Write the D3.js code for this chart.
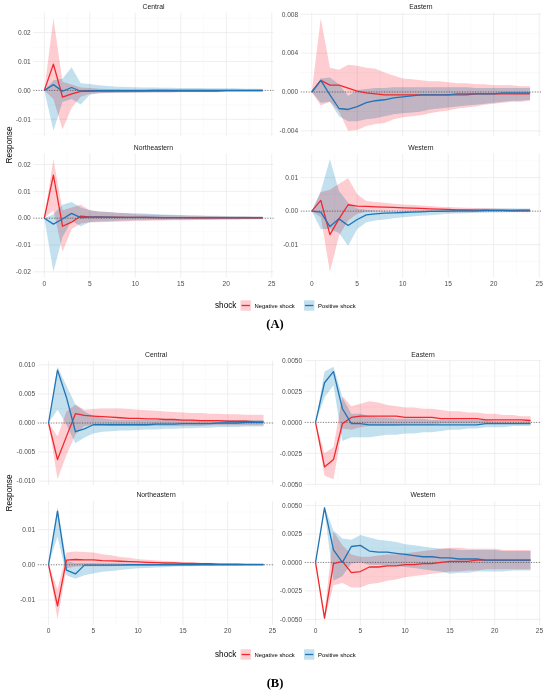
<!DOCTYPE html>
<html>
<head>
<meta charset="utf-8">
<script src="https://cdn.jsdelivr.net/npm/d3@7"></script>
<style>
  body { margin: 0; background: #fff; }
  text { font-family: "Liberation Sans", Arial, sans-serif; }
</style>
</head>
<body>
<div id="chart"></div>
<script>
// horizons 0..24 of the impulse responses
const horizon = [0, 1, 2, 3, 4, 5, 6, 7, 8, 9, 10, 11, 12, 13, 14, 15, 16, 17, 18, 19, 20, 21, 22, 23, 24];
const regions = ["Central", "Eastern", "Northeastern", "Western"];
const shocks = ["Negative shock", "Positive shock"];
const xTicks = [0, 5, 10, 15, 20, 25];

// ---- panel A ----
const aCenNeg   = [0, 0.0091, -0.0023, -0.0012, -0.0003, -0.0002, -0.0002, -0.0002, -0.0002, -0.0002, -0.0002, -0.0002, -0.0002, -0.0002, -0.0002, -0.0002, -0.0002, -0.0002, -0.0002, -0.0002, -0.0001, -0.0001, -0.0001, -0.0001, -0.0001];
const aCenNegLo = [0, -0.003, -0.0135, -0.006, -0.0022, -0.0012, -0.001, -0.0009, -0.0008, -0.0008, -0.0008, -0.0007, -0.0007, -0.0007, -0.0007, -0.0006, -0.0006, -0.0006, -0.0006, -0.0006, -0.0005, -0.0005, -0.0005, -0.0005, -0.0005];
const aCenNegHi = [0, 0.025, 0.003, 0.002, 0.001, 0.0008, 0.0006, 0.0005, 0.0005, 0.0004, 0.0004, 0.0004, 0.0004, 0.0004, 0.0003, 0.0003, 0.0003, 0.0003, 0.0003, 0.0003, 0.0003, 0.0003, 0.0003, 0.0003, 0.0003];
const aCenPos   = [0, 0.0020, -0.0003, 0.0010, -0.0003, -0.0002, -0.0001, -0.0001, -0.0001, -0.0001, -0.0001, -0.0001, 0, 0, 0, 0, 0, 0, 0, 0, 0, 0, 0, 0, 0];
const aCenPosLo = [0, -0.014, -0.004, -0.003, -0.0049, -0.0015, -0.001, -0.0009, -0.0008, -0.0008, -0.0007, -0.0007, -0.0006, -0.0006, -0.0006, -0.0005, -0.0005, -0.0005, -0.0005, -0.0004, -0.0004, -0.0004, -0.0004, -0.0004, -0.0004];
const aCenPosHi = [0, 0.0035, 0.004, 0.008, 0.0025, 0.0022, 0.0018, 0.0015, 0.0013, 0.0012, 0.0011, 0.001, 0.001, 0.0009, 0.0009, 0.0008, 0.0008, 0.0008, 0.0007, 0.0007, 0.0007, 0.0007, 0.0006, 0.0006, 0.0006];

const aEasNeg   = [0, 0.0012, 0.0007, 0.0007, 0.0004, 0.0001, -0.0001, -0.0002, -0.0003, -0.0003, -0.0003, -0.0003, -0.0003, -0.0003, -0.0003, -0.0003, -0.0003, -0.0003, -0.0002, -0.0002, -0.0002, -0.0002, -0.0002, -0.0002, -0.0002];
const aEasNegLo = [0, -0.0014, -0.0010, -0.0020, -0.0040, -0.0039, -0.0035, -0.0033, -0.0032, -0.0028, -0.0026, -0.0025, -0.0024, -0.0022, -0.0020, -0.0019, -0.0017, -0.0016, -0.0015, -0.0013, -0.0012, -0.0011, -0.0010, -0.0010, -0.0009];
const aEasNegHi = [0, 0.0076, 0.0025, 0.0023, 0.0028, 0.0027, 0.0025, 0.0024, 0.0020, 0.0017, 0.0014, 0.0013, 0.0012, 0.0011, 0.0011, 0.0010, 0.0009, 0.0009, 0.0008, 0.0008, 0.0007, 0.0007, 0.0007, 0.0006, 0.0006];
const aEasPos   = [0, 0.0012, -0.0003, -0.0017, -0.0018, -0.0015, -0.0011, -0.0009, -0.0008, -0.0006, -0.0005, -0.0004, -0.0003, -0.0003, -0.0003, -0.0003, -0.0002, -0.0002, -0.0002, -0.0002, -0.0002, -0.0001, -0.0001, -0.0001, -0.0001];
const aEasPosLo = [0, -0.0011, -0.0010, -0.0025, -0.0030, -0.0030, -0.0028, -0.0027, -0.0025, -0.0023, -0.0022, -0.0021, -0.0020, -0.0018, -0.0017, -0.0016, -0.0015, -0.0014, -0.0013, -0.0012, -0.0011, -0.0010, -0.0009, -0.0009, -0.0008];
const aEasPosHi = [0, 0.0014, 0.0015, 0.0008, -0.0004, 0.0002, 0.0003, 0.0004, 0.0004, 0.0005, 0.0005, 0.0005, 0.0005, 0.0005, 0.0005, 0.0005, 0.0005, 0.0005, 0.0004, 0.0004, 0.0004, 0.0004, 0.0004, 0.0004, 0.0004];

const aNorNeg   = [0, 0.016, -0.003, -0.0015, 0.0008, 0.0005, 0.0005, 0.0004, 0.0004, 0.0003, 0.0003, 0.0003, 0.0002, 0.0002, 0.0002, 0.0002, 0.0001, 0.0001, 0.0001, 0.0001, 0.0001, 0.0001, 0.0001, 0.0001, 0.0001];
const aNorNegLo = [0, 0.003, -0.0125, -0.004, -0.002, -0.0015, -0.0015, -0.0014, -0.0013, -0.0012, -0.001, -0.001, -0.0009, -0.0009, -0.0008, -0.0008, -0.0008, -0.0007, -0.0007, -0.0007, -0.0006, -0.0006, -0.0005, -0.0005, -0.0004];
const aNorNegHi = [0, 0.022, 0.003, 0.004, 0.005, 0.003, 0.0025, 0.0023, 0.002, 0.0018, 0.0015, 0.0014, 0.0013, 0.0012, 0.0011, 0.001, 0.0009, 0.0009, 0.0008, 0.0007, 0.0006, 0.0006, 0.0006, 0.0005, 0.0005];
const aNorPos   = [0, -0.0022, -0.0003, 0.0018, 0.0002, 0.0004, 0.0004, 0.0004, 0.0003, 0.0003, 0.0003, 0.0003, 0.0003, 0.0002, 0.0002, 0.0002, 0.0002, 0.0002, 0.0002, 0.0002, 0.0002, 0.0002, 0.0002, 0.0002, 0.0002];
const aNorPosLo = [0, -0.020, -0.007, -0.001, -0.003, -0.0015, -0.0012, -0.0011, -0.001, -0.0009, -0.0008, -0.0008, -0.0007, -0.0007, -0.0006, -0.0006, -0.0005, -0.0005, -0.0005, -0.0004, -0.0004, -0.0004, -0.0003, -0.0003, -0.0003];
const aNorPosHi = [0, 0.0015, 0.005, 0.006, 0.004, 0.003, 0.0025, 0.0023, 0.002, 0.0019, 0.0018, 0.0017, 0.0016, 0.0014, 0.0013, 0.0012, 0.0011, 0.001, 0.0009, 0.0009, 0.0008, 0.0007, 0.0007, 0.0006, 0.0006];

const aWesNeg   = [0, 0.0032, -0.007, -0.0023, 0.0019, 0.0015, 0.0014, 0.0013, 0.0012, 0.0011, 0.001, 0.0009, 0.0008, 0.0007, 0.0006, 0.0005, 0.0004, 0.0004, 0.0003, 0.0003, 0.0002, 0.0002, 0.0001, 0.0001, 0.0001];
const aWesNegLo = [0, -0.0018, -0.0181, -0.0073, -0.0028, -0.0008, -0.0002, 0, 0, 0, -0.0001, -0.0001, -0.0002, -0.0002, -0.0002, -0.0003, -0.0003, -0.0003, -0.0003, -0.0003, -0.0003, -0.0003, -0.0003, -0.0003, -0.0003];
const aWesNegHi = [0, 0.0057, 0.0064, 0.0082, 0.0098, 0.005, 0.003, 0.0027, 0.0025, 0.0022, 0.002, 0.0019, 0.0017, 0.0015, 0.0013, 0.0012, 0.0011, 0.001, 0.0009, 0.0009, 0.0008, 0.0007, 0.0007, 0.0006, 0.0006];
const aWesPos   = [0, -0.0003, -0.0046, -0.0023, -0.0043, -0.0025, -0.0011, -0.0008, -0.0006, -0.0005, -0.0004, -0.0003, -0.0002, -0.0001, -0.0001, 0, 0.0001, 0.0001, 0.0001, 0.0002, 0.0002, 0.0002, 0.0002, 0.0003, 0.0003];
const aWesPosLo = [0, -0.0053, -0.0053, -0.0065, -0.0103, -0.0053, -0.0033, -0.0028, -0.0025, -0.0021, -0.0018, -0.0016, -0.0014, -0.0012, -0.001, -0.0008, -0.0007, -0.0006, -0.0005, -0.0004, -0.0003, -0.0003, -0.0002, -0.0002, -0.0002];
const aWesPosHi = [0, 0.006, 0.0155, 0.006, 0.0025, 0.0008, 0.0004, 0.0002, 0.0001, 0, 0, 0.0001, 0.0002, 0.0003, 0.0004, 0.0005, 0.0006, 0.0006, 0.0007, 0.0007, 0.0008, 0.0008, 0.0008, 0.0008, 0.0008];

// ---- panel B ----
const bCenNeg   = [0, -0.0063, -0.0023, 0.0016, 0.0013, 0.0012, 0.0011, 0.001, 0.0009, 0.0008, 0.0008, 0.0007, 0.0007, 0.0006, 0.0006, 0.0005, 0.0005, 0.0004, 0.0004, 0.0004, 0.0003, 0.0003, 0.0003, 0.0002, 0.0002];
const bCenNegLo = [0, -0.0097, -0.0055, -0.002, -0.0005, -0.0004, -0.0004, -0.0005, -0.0005, -0.0005, -0.0005, -0.0005, -0.0005, -0.0005, -0.0005, -0.0005, -0.0005, -0.0005, -0.0004, -0.0004, -0.0004, -0.0004, -0.0004, -0.0004, -0.0004];
const bCenNegHi = [0, -0.0023, 0.002, 0.0032, 0.0023, 0.0024, 0.0025, 0.0025, 0.0025, 0.0024, 0.0023, 0.0022, 0.0021, 0.002, 0.0019, 0.0018, 0.0017, 0.0017, 0.0016, 0.0016, 0.0015, 0.0015, 0.0014, 0.0014, 0.0014];
const bCenPos   = [0, 0.0091, 0.0044, -0.0015, -0.001, -0.0003, -0.0003, -0.0003, -0.0003, -0.0003, -0.0003, -0.0003, -0.0002, -0.0002, -0.0002, -0.0001, -0.0001, -0.0001, -0.0001, 0, 0, 0, 0.0001, 0.0001, 0.0001];
const bCenPosLo = [0, 0.0023, -0.0003, -0.0035, -0.0025, -0.0018, -0.0015, -0.0014, -0.0013, -0.0013, -0.0012, -0.0011, -0.0011, -0.001, -0.001, -0.0009, -0.0009, -0.0008, -0.0008, -0.0007, -0.0007, -0.0007, -0.0006, -0.0006, -0.0006];
const bCenPosHi = [0, 0.0097, 0.0064, 0.0032, 0.002, 0.0012, 0.0008, 0.0006, 0.0005, 0.0005, 0.0005, 0.0005, 0.0005, 0.0005, 0.0005, 0.0005, 0.0005, 0.0005, 0.0005, 0.0005, 0.0005, 0.0005, 0.0005, 0.0005, 0.0005];

const bEasNeg   = [0, -0.0036, -0.003, -0.0001, 0.0004, 0.0005, 0.0005, 0.0005, 0.0005, 0.0005, 0.0004, 0.0004, 0.0004, 0.0004, 0.0003, 0.0003, 0.0003, 0.0003, 0.0003, 0.0002, 0.0002, 0.0002, 0.0002, 0.0002, 0.00015];
const bEasNegLo = [0, -0.0043, -0.0046, -0.0005, -0.0006, -0.0004, -0.0003, -0.0003, -0.0003, -0.0003, -0.0002, -0.0002, -0.0002, -0.0002, -0.0001, -0.0001, -0.0001, -0.0001, -0.0001, -0.0001, -0.0001, -0.0001, -0.0001, -0.0001, -0.0001];
const bEasNegHi = [0, -0.0025, -0.002, 0.0021, 0.0013, 0.0015, 0.0017, 0.0016, 0.0014, 0.0013, 0.0012, 0.0012, 0.0011, 0.0011, 0.001, 0.0009, 0.0009, 0.0008, 0.0008, 0.0007, 0.0007, 0.0006, 0.0006, 0.0005, 0.0005];
const bEasPos   = [0, 0.0032, 0.0041, 0.0011, -0.0001, -0.0001, -0.0002, -0.0002, -0.0002, -0.0002, -0.0002, -0.0002, -0.0002, -0.0002, -0.0002, -0.0002, -0.0002, -0.0002, -0.0002, -0.0001, -0.0001, -0.0001, -0.0001, -0.0001, -0.0001];
const bEasPosLo = [0, 0.002, 0.003, -0.0015, -0.0012, -0.0012, -0.0012, -0.0011, -0.001, -0.001, -0.0009, -0.0009, -0.0008, -0.0008, -0.0007, -0.0006, -0.0006, -0.0005, -0.0005, -0.0004, -0.0004, -0.0004, -0.0003, -0.0003, -0.0003];
const bEasPosHi = [0, 0.0041, 0.0045, 0.002, 0.0007, 0.0007, 0.0005, 0.0004, 0.0004, 0.0003, 0.0003, 0.0003, 0.0003, 0.0002, 0.0002, 0.0002, 0.0002, 0.0002, 0.0002, 0.0002, 0.0001, 0.0001, 0.0001, 0.0001, 0.0001];

const bNorNeg   = [0, -0.0117, 0.0013, 0.0015, 0.0014, 0.0014, 0.0012, 0.0011, 0.001, 0.0009, 0.0008, 0.0007, 0.0006, 0.0005, 0.0005, 0.0004, 0.0004, 0.0003, 0.0003, 0.0002, 0.0002, 0.0002, 0.0001, 0.0001, 0.0001];
const bNorNegLo = [0, -0.0155, -0.001, -0.0005, -0.0004, -0.0004, -0.0004, -0.0004, -0.0003, -0.0003, -0.0003, -0.0003, -0.0002, -0.0002, -0.0002, -0.0002, -0.0002, -0.0001, -0.0001, -0.0001, -0.0001, -0.0001, -0.0001, -0.0001, -0.0001];
const bNorNegHi = [0, -0.007, 0.0035, 0.0038, 0.0036, 0.0035, 0.003, 0.0027, 0.0022, 0.002, 0.0016, 0.0014, 0.0012, 0.0011, 0.0009, 0.0008, 0.0007, 0.0006, 0.0006, 0.0005, 0.0004, 0.0004, 0.0003, 0.0003, 0.0002];
const bNorPos   = [0, 0.0152, -0.0015, -0.0026, -0.0001, -0.0001, -0.0001, -0.0001, -0.0001, 0, 0, 0, 0, 0, 0, 0, 0, 0, 0, 0, 0, 0, 0, 0, 0];
const bNorPosLo = [0, 0.008, -0.003, -0.004, -0.003, -0.0025, -0.002, -0.0018, -0.0015, -0.0012, -0.001, -0.0009, -0.0008, -0.0007, -0.0005, -0.0004, -0.0004, -0.0003, -0.0003, -0.0002, -0.0002, -0.0002, -0.0001, -0.0001, -0.0001];
const bNorPosHi = [0, 0.0165, 0.001, 0.0005, 0.0005, 0.0005, 0.0004, 0.0004, 0.0004, 0.0003, 0.0003, 0.0003, 0.0003, 0.0002, 0.0002, 0.0002, 0.0002, 0.0002, 0.0002, 0.0002, 0.0002, 0.0002, 0.0002, 0.0002, 0.0002];

const bWesNeg   = [0, -0.0049, -0.0001, 0.0001, -0.0009, -0.0008, -0.0004, -0.0004, -0.0003, -0.0003, -0.0002, -0.0002, -0.0001, -0.0001, 0, 0.0001, 0.0001, 0.0001, 0.0002, 0.0002, 0.0002, 0.0002, 0.0002, 0.0002, 0.0002];
const bWesNegLo = [0, -0.005, -0.002, -0.0018, -0.0022, -0.0022, -0.0019, -0.0018, -0.0016, -0.0015, -0.0013, -0.0012, -0.0011, -0.001, -0.0009, -0.0008, -0.0008, -0.0007, -0.0007, -0.0006, -0.0006, -0.0006, -0.0006, -0.0006, -0.0006];
const bWesNegHi = [0, -0.0045, 0.0027, 0.0015, 0.0007, 0.0005, 0.0005, 0.0006, 0.0007, 0.0007, 0.0008, 0.0009, 0.001, 0.0011, 0.0012, 0.0013, 0.0013, 0.0012, 0.0012, 0.0012, 0.0012, 0.0011, 0.0011, 0.0011, 0.0011];
const bWesPos   = [0, 0.0048, 0.0011, 0, 0.0014, 0.0015, 0.001, 0.0009, 0.0009, 0.0008, 0.0007, 0.0006, 0.0005, 0.0005, 0.0004, 0.0004, 0.0003, 0.0003, 0.0003, 0.0002, 0.0002, 0.0002, 0.0002, 0.0002, 0.0002];
const bWesPosLo = [0, 0.0045, -0.0016, -0.0012, -0.0001, 0, -0.0002, -0.0002, -0.0003, -0.0003, -0.0004, -0.0005, -0.0006, -0.0007, -0.0008, -0.001, -0.0009, -0.0009, -0.0008, -0.0008, -0.0008, -0.0008, -0.0007, -0.0007, -0.0007];
const bWesPosHi = [0, 0.0049, 0.0028, 0.0021, 0.002, 0.0024, 0.0022, 0.002, 0.0019, 0.0018, 0.0016, 0.0015, 0.0014, 0.0013, 0.0012, 0.0012, 0.0011, 0.0011, 0.0011, 0.0011, 0.0011, 0.001, 0.001, 0.001, 0.001];

// y tick labels per facet
const aTicks = [[-0.01, 0, 0.01, 0.02], [-0.004, 0, 0.004, 0.008], [-0.02, -0.01, 0, 0.01, 0.02], [-0.01, 0, 0.01]];
const aDigits = [2, 3, 2, 2];
const bTicks = [[-0.010, -0.005, 0, 0.005, 0.010], [-0.005, -0.0025, 0, 0.0025, 0.005], [-0.01, 0, 0.01], [-0.005, -0.0025, 0, 0.0025, 0.005]];
const bDigits = [3, 4, 2, 4];

const lineCol = { neg: "#F0282D", pos: "#1F74B6" };
const fillCol = { neg: "#FDCDD1", pos: "#C3E0EE" };

const svg = d3.select("#chart").append("svg")
    .attr("width", 550)
    .attr("height", 693);
svg.append("rect").attr("width", 550).attr("height", 693).attr("fill", "#fff");

function facet(series) {
    // series: [negMid, negLo, negHi, posMid, posLo, posHi]
    const mk = (m, l, h) => horizon.map((t, i) => ({ h: t, m: m[i], lo: l[i], hi: h[i] }));
    return { neg: mk(series[0], series[1], series[2]), pos: mk(series[3], series[4], series[5]) };
}

const figA = [
    facet([aCenNeg, aCenNegLo, aCenNegHi, aCenPos, aCenPosLo, aCenPosHi]),
    facet([aEasNeg, aEasNegLo, aEasNegHi, aEasPos, aEasPosLo, aEasPosHi]),
    facet([aNorNeg, aNorNegLo, aNorNegHi, aNorPos, aNorPosLo, aNorPosHi]),
    facet([aWesNeg, aWesNegLo, aWesNegHi, aWesPos, aWesPosLo, aWesPosHi])
];
const figB = [
    facet([bCenNeg, bCenNegLo, bCenNegHi, bCenPos, bCenPosLo, bCenPosHi]),
    facet([bEasNeg, bEasNegLo, bEasNegHi, bEasPos, bEasPosLo, bEasPosHi]),
    facet([bNorNeg, bNorNegLo, bNorNegHi, bNorPos, bNorPosLo, bNorPosHi]),
    facet([bWesNeg, bWesNegLo, bWesNegHi, bWesPos, bWesPosLo, bWesPosHi])
];

const fmt = digits => v => {
    const s = Math.abs(v).toFixed(digits);
    return (v < 0 ? "-" : "") + s;
};

function drawPanel(g, px, py, pw, ph, d, title, ticks, digits, showX) {
    const x = d3.scaleLinear().domain([-1.2, 25.2]).range([px, px + pw]);
    const all = [0];
    ["neg", "pos"].forEach(k => d[k].forEach(r => { all.push(r.lo, r.hi, r.m); }));
    const lo = d3.min(all), hi = d3.max(all), pad = (hi - lo) * 0.05;
    const y = d3.scaleLinear().domain([lo - pad, hi + pad]).range([py + ph, py]);
    const [y0, y1] = y.domain();

    // minor grid
    const step = ticks[1] - ticks[0];
    const yMinor = ticks.map(t => t - step / 2).concat([ticks[ticks.length - 1] + step / 2])
        .filter(v => v >= y0 && v <= y1);
    const xMinor = [2.5, 7.5, 12.5, 17.5, 22.5];
    const grid = g.append("g");
    grid.selectAll(".ym").data(yMinor).join("line")
        .attr("x1", px).attr("x2", px + pw)
        .attr("y1", d => y(d)).attr("y2", d => y(d))
        .attr("stroke", "#f2f2f2").attr("stroke-width", 0.4);
    grid.selectAll(".xm").data(xMinor).join("line")
        .attr("x1", d => x(d)).attr("x2", d => x(d))
        .attr("y1", py).attr("y2", py + ph)
        .attr("stroke", "#f2f2f2").attr("stroke-width", 0.4);
    grid.selectAll(".yM").data(ticks).join("line")
        .attr("x1", px).attr("x2", px + pw)
        .attr("y1", d => y(d)).attr("y2", d => y(d))
        .attr("stroke", "#e8e8e8").attr("stroke-width", 0.7);
    grid.selectAll(".xM").data(xTicks).join("line")
        .attr("x1", d => x(d)).attr("x2", d => x(d))
        .attr("y1", py).attr("y2", py + ph)
        .attr("stroke", "#e8e8e8").attr("stroke-width", 0.7);

    // ribbons
    const area = d3.area().x(r => x(r.h)).y0(r => y(r.lo)).y1(r => y(r.hi));
    ["neg", "pos"].forEach(k => {
        g.append("path").datum(d[k])
            .attr("d", area)
            .attr("fill", fillCol[k])
            .style("mix-blend-mode", "multiply");
    });

    g.append("line")
        .attr("x1", px).attr("x2", px + pw)
        .attr("y1", y(0)).attr("y2", y(0))
        .attr("stroke", "#444").attr("stroke-width", 0.7)
        .attr("stroke-dasharray", "1,1.6");

    const line = d3.line().x(r => x(r.h)).y(r => y(r.m));
    ["neg", "pos"].forEach(k => {
        g.append("path").datum(d[k])
            .attr("d", line)
            .attr("fill", "none")
            .attr("stroke", lineCol[k])
            .attr("stroke-width", 1.3)
            .attr("stroke-linejoin", "round");
    });

    // y tick labels
    g.selectAll(".yl").data(ticks).join("text")
        .attr("x", px - 2.6).attr("y", d => y(d))
        .attr("dy", "0.35em")
        .attr("text-anchor", "end")
        .attr("font-size", 6.6).attr("fill", "#4d4d4d")
        .text(fmt(digits));

    if (showX) {
        g.selectAll(".xl").data(xTicks).join("text")
            .attr("x", d => x(d)).attr("y", py + ph + 8.2)
            .attr("text-anchor", "middle")
            .attr("font-size", 6.6).attr("fill", "#4d4d4d")
            .text(d => d);
    }

    g.append("text")
        .attr("x", px + pw / 2).attr("y", py - 6.3)
        .attr("dy", "0.35em")
        .attr("text-anchor", "middle")
        .attr("font-size", 6.8).attr("fill", "#1a1a1a")
        .text(title);
}

function drawFigure(data, ticks, digits, L) {
    const g = svg.append("g");
    data.forEach((d, i) => {
        const c = L.cols[i % 2], r = L.rows[Math.floor(i / 2)];
        drawPanel(g, c[0], r[0], c[1], r[1], d, regions[i], ticks[i], digits[i], i >= 2);
    });

    g.append("text")
        .attr("transform", `translate(9,${(L.rows[0][0] + L.rows[1][0] + L.rows[1][1]) / 2}) rotate(-90)`)
        .attr("text-anchor", "middle")
        .attr("dy", "0.35em")
        .attr("font-size", 8.2).attr("fill", "#000")
        .text("Response");

    // legend
    const lg = g.append("g").attr("transform", `translate(0,${L.legendY})`);
    lg.append("text").attr("x", 215).attr("y", 0).attr("dy", "0.35em")
        .attr("font-size", 8.2).attr("fill", "#000").text("shock");
    const keys = [{ k: "neg", x: 240.5, tx: 254.5 }, { k: "pos", x: 304, tx: 318 }];
    keys.forEach((o, i) => {
        lg.append("rect").attr("x", o.x).attr("y", -5.2).attr("width", 10.4).attr("height", 10.4)
            .attr("fill", fillCol[o.k]);
        lg.append("line").attr("x1", o.x + 1).attr("x2", o.x + 9.4).attr("y1", 0).attr("y2", 0)
            .attr("stroke", lineCol[o.k]).attr("stroke-width", 1.3);
        lg.append("text").attr("x", o.tx).attr("y", 0).attr("dy", "0.35em")
            .attr("font-size", 5.9).attr("fill", "#000").text(shocks[i]);
    });

    g.append("text")
        .attr("x", 275).attr("y", L.tagY)
        .attr("text-anchor", "middle")
        .style("font-family", "'Liberation Serif', 'Times New Roman', serif")
        .attr("font-weight", "bold")
        .attr("font-size", 12.5)
        .attr("fill", "#000")
        .text(L.tag);
}

drawFigure(figA, aTicks, aDigits, {
    cols: [[33.4, 240.2], [300.8, 240.2]],
    rows: [[12.5, 124], [153.5, 124]],
    legendY: 305.5, tagY: 328, tag: "(A)"
});
drawFigure(figB, bTicks, bDigits, {
    cols: [[37.8, 236.5], [304.8, 236.5]],
    rows: [[361, 124], [501, 124]],
    legendY: 654.5, tagY: 686.5, tag: "(B)"
});
</script>
</body>
</html>
